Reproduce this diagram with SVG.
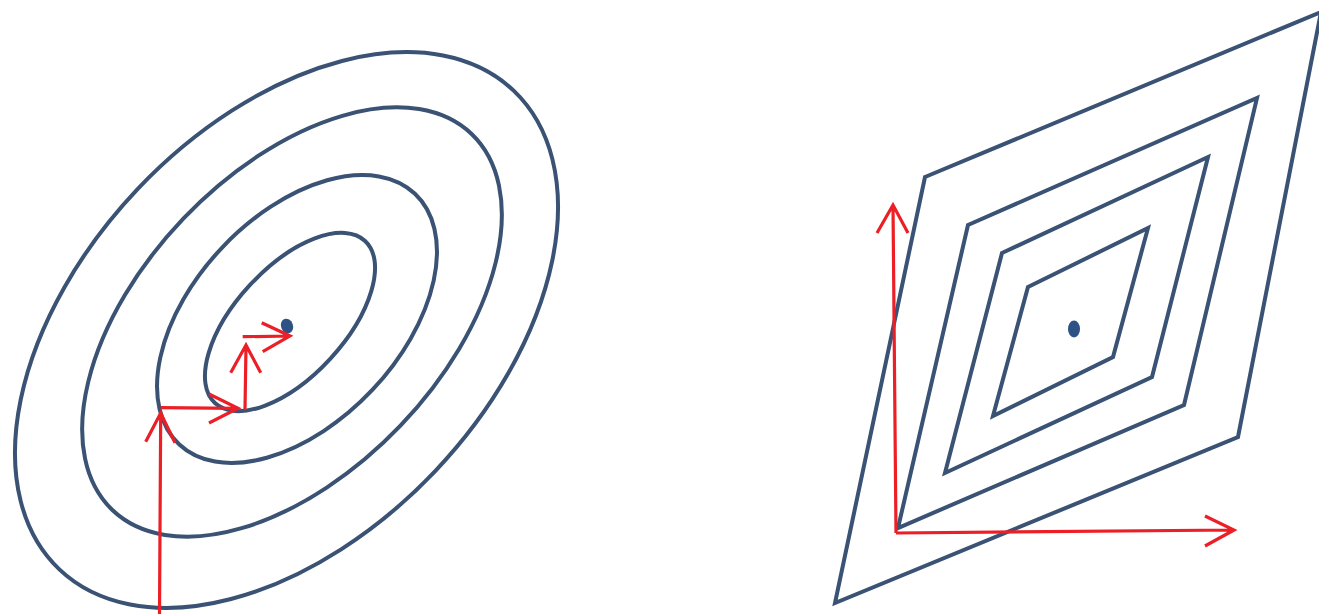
<svg xmlns="http://www.w3.org/2000/svg" width="1319" height="614" viewBox="0 0 1319 614">
<style>
.c{fill:none;stroke:#3a5274;stroke-width:4}
.r{fill:none;stroke:#ec1f27;stroke-width:3.2;stroke-linecap:butt;stroke-linejoin:miter}
.d{fill:#2e5285}
</style>
<rect width="1319" height="614" fill="#ffffff"/>
<g id="ellipses">
<ellipse id="e1" class="c" cx="286.5" cy="330" rx="330" ry="205" transform="rotate(-46.5 286.5 330)"/>
<ellipse id="e2" class="c" cx="292" cy="322" rx="260" ry="150" transform="rotate(-46.3 292 322)"/>
<ellipse id="e3" class="c" cx="297" cy="319" rx="172" ry="103.5" transform="rotate(-46.7 297 319)"/>
<ellipse id="e4" class="c" cx="290" cy="322" rx="110.5" ry="54.5" transform="rotate(-47.2 290 322)"/>
<ellipse id="dot-left" class="d" cx="287" cy="326" rx="6" ry="7.5" transform="rotate(-20 287 326)"/>
</g>
<g id="diamonds">
<polygon id="p1" class="c" points="925,177 1321,12 1238,437 835,603"/>
<polygon id="p2" class="c" points="968,225 1257,98 1184,405 898,528"/>
<polygon id="p3" class="c" points="1002,253 1208,157 1152,377 945,473"/>
<polygon id="p4" class="c" points="1028,287 1148,228 1113,357 993,416"/>
<ellipse id="dot-right" class="d" cx="1074" cy="329" rx="6" ry="8.5"/>
</g>
<g id="connectors">
<path class="r" d="M159.5,614 L160.7,413 M145.7,441.7 L160.7,413 L175,442.7"/>
<path class="r" d="M160.7,407.7 L238,408.3 M209,394 L238,408.3 L209,423"/>
<path class="r" d="M245,410 L246,345 M230.7,372.7 L246,345 L260.7,372.7"/>
<path class="r" d="M242.7,336.7 L290,336 M261.7,322.7 L290,336 L262.7,351.7"/>
<path class="r" d="M896,533 L893,205 M877,233 L893,205 L908,233"/>
<path class="r" d="M896,533 L1234,530 M1205,516 L1234,530 L1205,546"/>
</g>
</svg>
